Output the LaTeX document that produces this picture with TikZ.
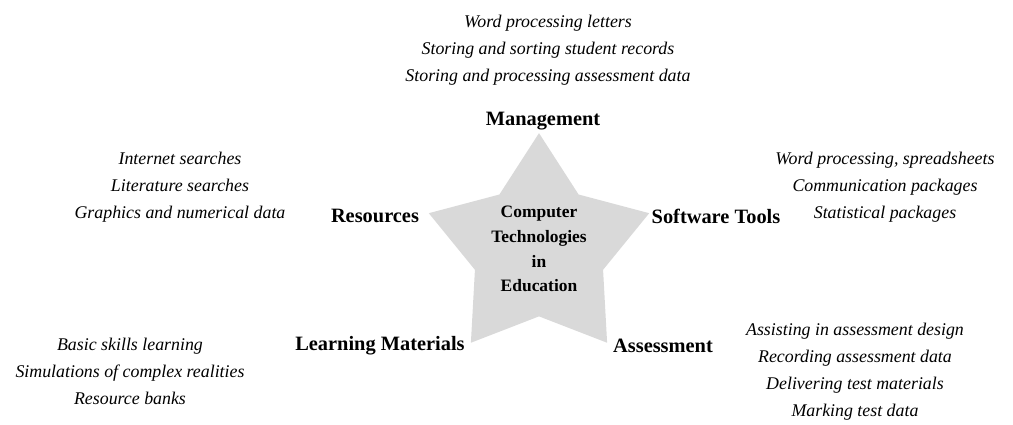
\documentclass[tikz,border=0pt]{standalone}
\usepackage{fontspec}
\setmainfont{Liberation Serif}
\usepackage{tikz}
\usetikzlibrary{shapes.geometric}

\begin{document}
\begin{tikzpicture}[line cap=round,line join=round,x=0.025cm,y=0.025cm]
\useasboundingbox (0,0) rectangle (1013,424);
\tikzstyle{head}= [font=\fontsize{14.5}{17}\selectfont\bfseries, inner sep=0pt];
\tikzstyle{items}= [font=\fontsize{12.7}{19.2}\selectfont\itshape, align=center, inner sep=0pt];
% centre star
\node [star, star points=5, star point ratio=1.72, minimum size=5.5cm, inner sep=0pt,
  fill=gray!30, align=center, font=\fontsize{12.4}{17.6}\selectfont\bfseries] (hub) at (539,175)
  {Computer\\Technologies\\in\\Education};
% the five uses
\node [head] (mgmt) at (543,303) {Management};
\node [head] (res) at (375,208) {Resources};
\node [head] (soft) at (716,208) {Software Tools};
\node [head] (learn) at (380,78) {Learning Materials};
\node [head] (assess) at (663,78) {Assessment};
% examples for each
\node [items] (mgmtlist) at (548,374) {Word processing letters\\Storing and sorting student records\\Storing and processing assessment data};
\node [items] (reslist) at (180,237) {Internet searches\\Literature searches\\Graphics and numerical data};
\node [items] (softlist) at (885,237) {Word processing, spreadsheets\\Communication packages\\Statistical packages};
\node [items] (learnlist) at (130,53) {Basic skills learning\\Simulations of complex realities\\Resource banks};
\node [items] (assesslist) at (855,52) {Assisting in assessment design\\Recording assessment data\\Delivering test materials\\Marking test data};
\end{tikzpicture}
\end{document}
